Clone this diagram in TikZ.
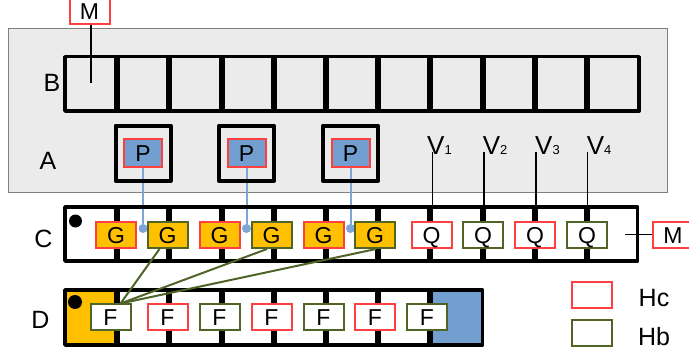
\documentclass[tikz,border=0pt]{standalone}
\usepackage{fontspec}
\setmainfont{Liberation Sans}
\pgfdeclarelayer{bg}
\pgfsetlayers{bg,main}
\definecolor{hred}{RGB}{255,64,64}
\definecolor{hgreen}{RGB}{80,100,40}
\definecolor{gold}{RGB}{255,192,0}
\definecolor{pblue}{RGB}{114,159,207}
\definecolor{panel}{RGB}{235,235,235}
\definecolor{lblue}{RGB}{125,165,215}
\begin{document}
\begin{tikzpicture}[x=1pt,y=-1pt,
  lab/.style={inner sep=0pt,font=\fontsize{25}{30}\selectfont,text height=18pt,text depth=0pt},
  vlab/.style={inner sep=0pt,font=\fontsize{26}{30}\selectfont,anchor=base west},
  cell/.style={draw,line width=2pt,inner sep=0pt,minimum width=40pt,minimum height=26pt,font=\fontsize{23}{27}\selectfont,text height=16.5pt,text depth=0pt},
  hc/.style={cell,draw=hred},
  hb/.style={cell,draw=hgreen},
  frame/.style={draw=black,line width=3.5pt,line join=round},
  divider/.style={line width=6pt},
  pbox/.style={draw,line width=4pt,minimum width=55pt,minimum height=55.5pt,inner sep=0pt,line join=round},
  pnode/.style={hc,fill=pblue,minimum width=38pt,minimum height=28.6pt},
  blink/.style={draw=lblue,line width=2pt},
  glink/.style={draw=hgreen,line width=2pt},
  thinline/.style={draw=black,line width=1.5pt},
]
\useasboundingbox (0,0) rectangle (689,356);
\begin{pgfonlayer}{bg}
  \filldraw[fill=panel,draw=black!50,line width=1pt] (8.5,28.5) rectangle (667,192.5);
  \fill[white] (65,207) rectangle (637.5,261);
  \fill[white] (65,290) rectangle (482.6,345);
  \fill[gold] (65,290) rectangle (117.2,345);
  \fill[pblue] (430.4,290) rectangle (482.6,345);
\end{pgfonlayer}
% row B
\draw[frame] (65,56.7) rectangle (639.2,111);
\foreach \i in {1,...,10} \draw[divider] ({65+52.2*\i},56.7) -- ({65+52.2*\i},111);
% labels
\node[lab] (lB) at (52,82) {B};
\node[lab] (lA) at (48,160) {A};
\node[lab] (lC) at (43.5,238.5) {C};
\node[lab] (lD) at (40.5,319) {D};
% P boxes
\foreach \x [count=\i] in {143,246.5,350.5} {
  \node[pbox] (pb\i) at (\x,153.25) {};
  \node[pnode] (p\i) at (\x,153) {P};
  \coordinate (d\i) at (\x,228.5);
  \begin{pgfonlayer}{bg}
    \draw[blink] (p\i.south) -- (d\i);
    \fill[lblue] (d\i) circle[radius=4.5pt];
  \end{pgfonlayer}
}
% row C
\draw[frame] (65,207) rectangle (637.5,261);
\foreach \i in {1,...,10} \draw[divider] ({65+52.2*\i},207) -- ({65+52.2*\i},261);
\fill (75.5,221) circle[radius=6.5pt];
% row D
\draw[frame] (65,290) rectangle (482.6,345);
\foreach \i in {1,...,7} \draw[divider] ({65+52.2*\i},290) -- ({65+52.2*\i},345);
\fill (75,302) circle[radius=7pt];
% G nodes
\foreach \x/\s [count=\i] in {116/hc,167.5/hb,219.5/hc,271.5/hb,323.5/hc,375/hb}
  \node[\s,fill=gold] (g\i) at (\x,235) {G};
% Q nodes
\foreach \x/\s [count=\i] in {431.5/hc,483/hb,535/hc,587/hb}
  \node[\s,fill=white] (q\i) at (\x,235) {Q};
% F nodes
\foreach \x/\s [count=\i] in {110.5/hb,167.5/hc,219.5/hb,271.5/hc,323.5/hb,375/hc,427/hb}
  \node[\s,fill=white] (f\i) at (\x,317) {F};
% green links
\coordinate (fc) at (120.5,303.5);
\draw[glink] ([xshift=-8pt]g2.south) -- (fc);
\draw[glink] ([xshift=-4.5pt]g4.south) -- (fc);
\draw[glink] ([xshift=1pt]g6.south) -- (fc);
% V labels and lines
\foreach \l/\x [count=\i] in {427/432.3,482.7/484,535/536,586.7/587.7} {
  \node[vlab] (v\i) at (\l,154) {V{\fontsize{13}{13}\selectfont\i}};
  \coordinate (vt\i) at (\x,152);
  \draw[thinline] (vt\i) -- (vt\i |- q\i.north);
}
% M nodes
\node[hc,fill=white] (mt) at (89.5,11) {M};
\coordinate (mb) at (91,83);
\draw[thinline] (mb |- mt.south) -- (mb);
\node[hc,fill=white] (mr) at (673,235) {M};
\coordinate (ml) at (625,234.5);
\draw[thinline] (ml) -- (mr.west |- ml);
% legend
\node[hc] (kc) at (592,295) {};
\node[hb] (kb) at (591.5,333) {};
\node[lab] (tc) at (654,297) {Hc};
\node[lab] (tb) at (654,336.5) {Hb};
\end{tikzpicture}
\end{document}
